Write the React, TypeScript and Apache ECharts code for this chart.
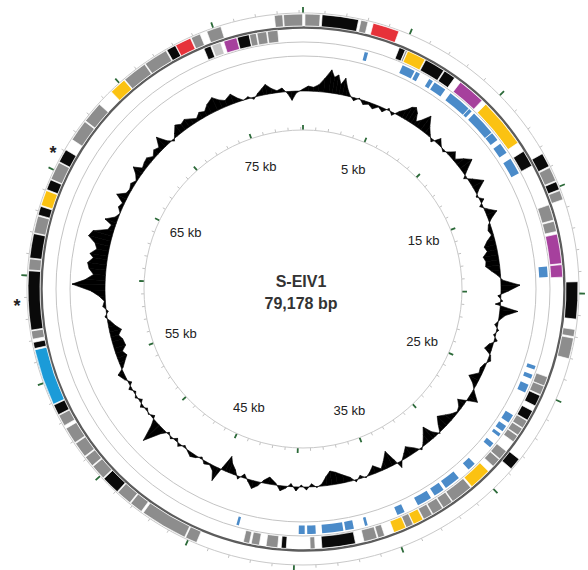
import React, { useEffect, useRef } from 'react';
import * as echarts from 'echarts';

// ---------------- data ----------------
const GENOME_BP = 79178;
const TICK_BP = 5000;
const scaleLabelsKb = [5, 15, 25, 35, 45, 55, 65, 75];

// forward-strand genes (outer lane): [start kb, end kb, colour class]
const fwdGenes: [number, number, string][] = [
  [77.86, 78.24, 'G'], [78.28, 79.16, 'G'], [0.09, 0.79, 'G'], [0.88, 2.57, 'K'],
  [2.68, 3.01, 'G'], [3.26, 4.49, 'R'], [13.31, 13.97, 'K'], [14.03, 14.69, 'G'],
  [14.74, 15.13, 'K'], [15.18, 15.62, 'G'], [19.46, 21.18, 'K'], [21.66, 21.99, 'G'],
  [22.06, 23.03, 'G'], [28.2, 28.77, 'K'], [44.6, 45.15, 'G'], [45.2, 47.4, 'G'],
  [47.51, 48.12, 'G'], [48.17, 48.89, 'G'], [48.94, 49.79, 'K'], [49.84, 50.54, 'G'],
  [50.59, 51.09, 'G'], [51.14, 51.86, 'G'], [51.91, 52.68, 'G'], [52.83, 53.36, 'G'],
  [53.4, 53.89, 'K'], [53.93, 56.57, 'C'], [56.63, 56.92, 'K'], [57.07, 57.45, 'G'],
  [57.49, 60.22, 'K'], [60.26, 60.77, 'G'], [60.81, 61.94, 'K'], [61.98, 62.77, 'G'],
  [62.82, 63.23, 'K'], [63.28, 64.0, 'Y'], [64.05, 64.53, 'K'], [64.57, 65.41, 'G'],
  [65.45, 66.07, 'K'], [66.62, 67.63, 'G'], [67.68, 68.67, 'G'], [69.46, 70.25, 'Y'],
  [70.29, 71.44, 'G'], [71.48, 72.6, 'G'], [72.65, 73.09, 'K'], [73.11, 73.86, 'R'],
  [73.9, 74.34, 'G'], [74.67, 75.35, 'G'],
];

// reverse-strand genes (inner lane)
const revGenes: [number, number, string][] = [
  [74.25, 74.6, 'K'], [74.65, 75.11, 'L'], [75.27, 75.92, 'M'], [75.95, 76.54, 'K'],
  [76.56, 76.89, 'G'], [76.93, 77.4, 'G'], [77.44, 77.95, 'G'], [4.79, 5.1, 'K'],
  [5.12, 5.21, 'G'], [5.23, 6.16, 'Y'], [6.2, 7.21, 'K'], [7.26, 7.85, 'K'],
  [8.2, 9.57, 'M'], [9.83, 12.27, 'Y'], [12.76, 13.57, 'K'], [15.64, 16.41, 'G'],
  [16.47, 16.98, 'G'], [17.11, 18.56, 'M'], [18.61, 19.22, 'M'], [24.15, 24.61, 'G'],
  [24.63, 25.07, 'G'], [25.12, 25.67, 'K'], [25.95, 26.46, 'K'], [26.5, 26.9, 'G'],
  [26.94, 27.32, 'G'], [27.36, 27.71, 'G'], [28.28, 28.77, 'G'], [28.81, 29.25, 'G'],
  [29.58, 30.68, 'Y'], [30.75, 31.85, 'G'], [31.89, 32.4, 'G'], [32.44, 32.99, 'G'],
  [33.03, 33.5, 'G'], [33.54, 34.05, 'Y'], [34.07, 34.44, 'G'], [34.46, 35.08, 'Y'],
  [35.56, 35.89, 'G'], [35.94, 36.6, 'G'], [37.02, 38.67, 'K'], [39.0, 39.24, 'G'],
  [40.4, 40.65, 'K'], [40.82, 41.39, 'G'], [41.72, 42.12, 'G'], [42.21, 42.51, 'G'],
];

// blue feature lane: [start kb, end kb]
const blueMarks: [number, number][] = [
  [3.21, 3.39], [5.28, 5.96], [6.05, 6.27], [6.82, 7.04], [7.15, 7.81], [8.14, 9.35],
  [9.39, 9.57], [9.74, 11.06], [11.11, 11.55], [11.79, 12.36], [12.73, 13.59], [18.63, 19.18],
  [23.82, 24.02], [24.3, 24.52], [24.85, 25.29], [26.61, 27.05], [27.27, 27.6], [27.76, 27.93],
  [28.37, 28.64], [29.8, 30.24], [30.9, 31.74], [31.89, 32.44], [32.66, 33.43], [34.2, 34.6],
  [36.22, 36.36], [36.95, 37.39], [37.5, 38.6], [38.93, 39.37], [39.5, 39.81], [42.93, 43.06],
];

// GC deviation profile: [position kb, deviation]
const gcProfile: [number, number][] = [
  [0, 2], [0.33, 5], [0.66, 4], [0.99, 7], [1.32, 14], [1.65, 23], [1.87, 16], [2.09, 19],
  [2.31, 10], [2.53, 17], [2.75, 8], [2.97, 2], [3.3, -3], [3.63, 1], [3.96, -4], [4.29, -2],
  [4.62, -5], [4.95, -1], [5.28, -4], [5.61, 2], [5.94, -3], [6.27, 4], [6.6, 9], [6.82, 14],
  [7.04, 16], [7.26, 12], [7.48, 4], [7.7, 8], [8.03, 17], [8.36, 8], [8.69, 2], [9.02, -3],
  [9.35, 6], [9.68, 1], [10.01, -2], [10.34, 3], [10.56, 7], [10.89, 2], [11.22, 9], [11.55, 15],
  [11.88, 5], [12.21, -3], [12.54, 4], [12.98, 13], [13.31, 4], [13.64, -2], [13.97, 4], [14.3, -3],
  [14.63, 3], [14.96, 11], [15.29, 3], [15.62, -2], [15.95, -4], [16.28, -2], [16.61, -8], [16.94, -12],
  [17.27, -10], [17.6, -15], [17.93, -13], [18.26, -14], [18.58, -9], [18.91, -3], [19.24, 2], [19.57, 19],
  [19.9, 8], [20.23, -3], [20.56, 2], [20.78, -5], [21.11, 18], [21.44, 6], [21.77, 1], [22.1, -3],
  [22.43, 2], [22.76, -2], [23.09, 3], [23.42, -4], [23.75, -7], [24.08, 1], [24.41, 3], [24.74, -2],
  [25.07, -4], [25.4, -3], [25.84, -11], [26.17, -4], [26.61, 2], [27.05, 10], [27.27, 2], [27.6, -8],
  [27.93, -3], [28.26, -1], [28.59, -4], [28.92, -8], [29.36, -13], [29.69, -7], [30.02, 1], [30.35, -6],
  [30.57, -15], [30.9, -9], [31.23, -3], [31.56, 2], [31.89, -4], [32.33, -10], [32.66, -5], [32.99, 0],
  [33.21, 6], [33.43, -5], [33.69, -16], [34.09, -8], [34.42, -2], [34.86, -8], [35.19, -3], [35.52, 1],
  [35.85, -3], [36.18, 2], [36.51, -4], [36.95, -8], [37.39, -12], [37.74, -14], [38.05, -9], [38.38, -2],
  [38.71, 1], [39.04, -3], [39.37, 3], [39.7, -2], [40.03, 4], [40.36, -3], [40.69, 2], [41.02, 5],
  [41.35, -2], [41.79, -7], [42.12, -3], [42.45, 4], [42.78, 8], [43.11, 2], [43.44, -4], [43.77, 3],
  [44.1, -5], [44.43, -10], [44.65, -16], [44.91, -3], [45.18, 14], [45.42, 5], [45.75, 1], [46.08, 3],
  [46.41, -2], [46.74, 2], [47.07, 4], [47.4, 1], [47.73, -2], [48.06, 3], [48.39, -3], [48.72, 2],
  [49.05, -2], [49.38, 5], [49.82, 22], [50.15, 6], [50.48, -3], [50.81, 1], [51.14, -2], [51.47, 3],
  [51.8, -3], [52.13, 2], [52.46, -2], [52.79, 3], [53.12, -3], [53.44, 2], [53.89, 6], [54.22, -2],
  [54.55, -6], [54.88, -10], [55.21, -7], [55.53, -12], [55.98, -11], [56.3, -8], [56.63, -12], [56.96, -7],
  [57.29, -3], [57.62, 2], [57.95, -2], [58.28, 3], [58.61, 1], [58.94, 6], [59.27, 14], [59.65, 33],
  [59.93, 20], [60.26, 12], [60.59, 17], [60.92, 19], [61.25, 14], [61.47, 18], [61.8, 12], [62.13, 15],
  [62.46, 23], [62.79, 20], [63.12, 6], [63.45, 4], [63.67, 12], [64.0, 3], [64.33, 0], [64.66, 4],
  [64.99, 2], [65.32, 11], [65.65, 3], [65.98, 2], [66.31, 4], [66.64, 1], [66.97, 5], [67.24, 11],
  [67.52, 3], [67.85, 5], [68.18, 6], [68.51, 2], [68.84, 6], [69.17, 4], [69.5, 13], [69.83, 3],
  [70.16, -2], [70.49, 4], [70.82, 10], [71.15, 7], [71.48, 9], [71.81, 6], [72.14, 3], [72.47, 7],
  [72.8, 5], [73.13, 10], [73.57, 14], [73.9, 9], [74.23, 6], [74.67, 10], [75.0, 4], [75.33, 0],
  [75.66, 2], [75.99, -2], [76.32, 3], [76.65, 7], [76.87, 10], [77.2, 5], [77.53, 2], [77.86, 4],
  [78.19, -2], [78.45, -9], [78.74, -2], [79.178, 2],
];

// ---------------- styling / layout ----------------
const COLORS: Record<string, string> = {
  K: '#0a0a0a', G: '#8d8d8d', L: '#c4c4c4', R: '#e6323a', M: '#a6409d', Y: '#fbc212', C: '#1b9bd8',
};
const BLUE = '#4b8bc9';
const FONT = '"Liberation Sans", Arial, Helvetica, sans-serif';
const CX = 303;
const CY = 289;
const R_RULER = 276;
const R_FWD: [number, number] = [263, 275];
const R_BACKBONE = 261.5;
const R_REV: [number, number] = [248, 260];
const R_CIRC1 = 247;
const R_BLUE: [number, number] = [236.5, 245];
const R_CIRC2 = 233;
const R_GC = 198;
const R_INNER = 159;
const R_LABEL = 130;

function arcRenderer(rIn: number, rOut: number, colorOf: (i: number) => string, stroke: string) {
  return (params: any, api: any) => {
    const cs = params.coordSys;
    const s = api.value(0);
    const e = api.value(1);
    const p0 = api.coord([rOut, s]);
    const p1 = api.coord([rOut, e]);
    const q0 = api.coord([rIn, s]);
    const a0 = Math.atan2(p0[1] - cs.cy, p0[0] - cs.cx);
    let a1 = Math.atan2(p1[1] - cs.cy, p1[0] - cs.cx);
    while (a1 <= a0) a1 += Math.PI * 2;
    const ro = Math.hypot(p0[0] - cs.cx, p0[1] - cs.cy);
    const ri = Math.hypot(q0[0] - cs.cx, q0[1] - cs.cy);
    return {
      type: 'sector',
      shape: { cx: cs.cx, cy: cs.cy, r0: ri, r: ro, startAngle: a0, endAngle: a1, clockwise: true },
      style: { fill: colorOf(params.dataIndex), stroke, lineWidth: stroke === 'none' ? 0 : 0.7 },
    };
  };
}

function buildOption(): any {
  const gcSegments = gcProfile.slice(0, -1).map((p, i) => [
    p[0] * 1000, p[1], gcProfile[i + 1][0] * 1000, gcProfile[i + 1][1],
  ]);

  const angleBase = {
    min: 0,
    max: GENOME_BP,
    interval: TICK_BP,
    startAngle: 90,
    clockwise: true,
    axisLabel: { show: false },
    splitLine: { show: false },
    minorSplitLine: { show: false },
  };

  return {
    animation: false,
    backgroundColor: '#ffffff',
    textStyle: { fontFamily: FONT },
    polar: [
      { center: [CX, CY], radius: R_RULER },
      { center: [CX, CY], radius: R_INNER },
    ],
    angleAxis: [
      {
        ...angleBase,
        polarIndex: 0,
        axisLine: { show: true, lineStyle: { color: '#c9c9c9', width: 1 } },
        axisTick: { show: true, length: 6, lineStyle: { color: '#2c6a39', width: 1.8 } },
        minorTick: { show: true, splitNumber: 5, length: 3, lineStyle: { color: '#c2c2c2', width: 1 } },
      },
      {
        ...angleBase,
        polarIndex: 1,
        axisLine: { show: true, lineStyle: { color: '#c9c9c9', width: 1 } },
        axisTick: { show: true, length: 5, lineStyle: { color: '#2c6a39', width: 1.8 } },
        minorTick: { show: true, splitNumber: 5, length: 3, lineStyle: { color: '#c2c2c2', width: 1 } },
      },
    ],
    radiusAxis: [
      { polarIndex: 0, min: 0, max: R_RULER, show: false },
      { polarIndex: 1, min: 0, max: R_INNER, show: false },
    ],
    graphic: [
      { type: 'circle', silent: true, z: 1, shape: { cx: CX, cy: CY, r: R_BACKBONE }, style: { fill: 'none', stroke: '#5c5c5c', lineWidth: 2.4 } },
      { type: 'circle', silent: true, z: 1, shape: { cx: CX, cy: CY, r: R_CIRC1 }, style: { fill: 'none', stroke: '#c4c4c4', lineWidth: 1 } },
      { type: 'circle', silent: true, z: 1, shape: { cx: CX, cy: CY, r: R_CIRC2 }, style: { fill: 'none', stroke: '#c4c4c4', lineWidth: 1 } },
      { type: 'text', silent: true, x: 301, y: 281, style: { text: 'S-EIV1', fontSize: 16, fontWeight: 'bold', fontFamily: FONT, fill: '#333', align: 'center', verticalAlign: 'middle' } },
      { type: 'text', silent: true, x: 301, y: 303, style: { text: '79,178 bp', fontSize: 16, fontWeight: 'bold', fontFamily: FONT, fill: '#333', align: 'center', verticalAlign: 'middle' } },
      { type: 'text', silent: true, x: 53, y: 153, style: { text: '*', fontSize: 18, fontWeight: 'bold', fontFamily: FONT, fill: '#222', align: 'center', verticalAlign: 'middle' } },
      { type: 'text', silent: true, x: 17, y: 306, style: { text: '*', fontSize: 18, fontWeight: 'bold', fontFamily: FONT, fill: '#222', align: 'center', verticalAlign: 'middle' } },
    ],
    series: [
      {
        type: 'custom',
        name: 'forward genes',
        coordinateSystem: 'polar',
        polarIndex: 0,
        silent: true,
        data: fwdGenes.map((g) => [g[0] * 1000, g[1] * 1000]),
        renderItem: arcRenderer(R_FWD[0], R_FWD[1], (i) => COLORS[fwdGenes[i][2]], '#ffffff'),
      },
      {
        type: 'custom',
        name: 'reverse genes',
        coordinateSystem: 'polar',
        polarIndex: 0,
        silent: true,
        data: revGenes.map((g) => [g[0] * 1000, g[1] * 1000]),
        renderItem: arcRenderer(R_REV[0], R_REV[1], (i) => COLORS[revGenes[i][2]], '#ffffff'),
      },
      {
        type: 'custom',
        name: 'features',
        coordinateSystem: 'polar',
        polarIndex: 0,
        silent: true,
        data: blueMarks.map((m) => [m[0] * 1000, m[1] * 1000]),
        renderItem: arcRenderer(R_BLUE[0], R_BLUE[1], () => BLUE, 'none'),
      },
      {
        type: 'custom',
        name: 'GC',
        coordinateSystem: 'polar',
        polarIndex: 0,
        silent: true,
        data: gcSegments,
        renderItem: (params: any, api: any) => {
          const a = api.value(0);
          const da = api.value(1);
          const b = api.value(2);
          const db = api.value(3);
          const pts = [
            api.coord([R_GC, a]),
            api.coord([R_GC + da, a]),
            api.coord([R_GC + db, b]),
            api.coord([R_GC, b]),
          ];
          return {
            type: 'polygon',
            shape: { points: pts },
            style: { fill: '#000', stroke: '#000', lineWidth: 0.6, lineJoin: 'miter' },
          };
        },
      },
      {
        type: 'custom',
        name: 'scale labels',
        coordinateSystem: 'polar',
        polarIndex: 0,
        silent: true,
        data: scaleLabelsKb.map((k) => [k * 1000]),
        renderItem: (params: any, api: any) => {
          const p = api.coord([R_LABEL, api.value(0)]);
          return {
            type: 'text',
            x: p[0],
            y: p[1],
            style: {
              text: `${scaleLabelsKb[params.dataIndex]} kb`,
              fontSize: 13,
              fontFamily: FONT,
              fill: '#222',
              align: 'center',
              verticalAlign: 'middle',
            },
          };
        },
      },
    ],
  };
}

export default function App() {
  const ref = useRef<HTMLDivElement>(null);
  useEffect(() => {
    if (!ref.current) return;
    const chart = echarts.init(ref.current, null, { renderer: 'svg' });
    chart.setOption(buildOption());
    return () => chart.dispose();
  }, []);
  return (
    <div
      ref={ref}
      style={{ position: 'fixed', left: 0, top: 0, width: 588, height: 570, background: '#fff' }}
    />
  );
}
